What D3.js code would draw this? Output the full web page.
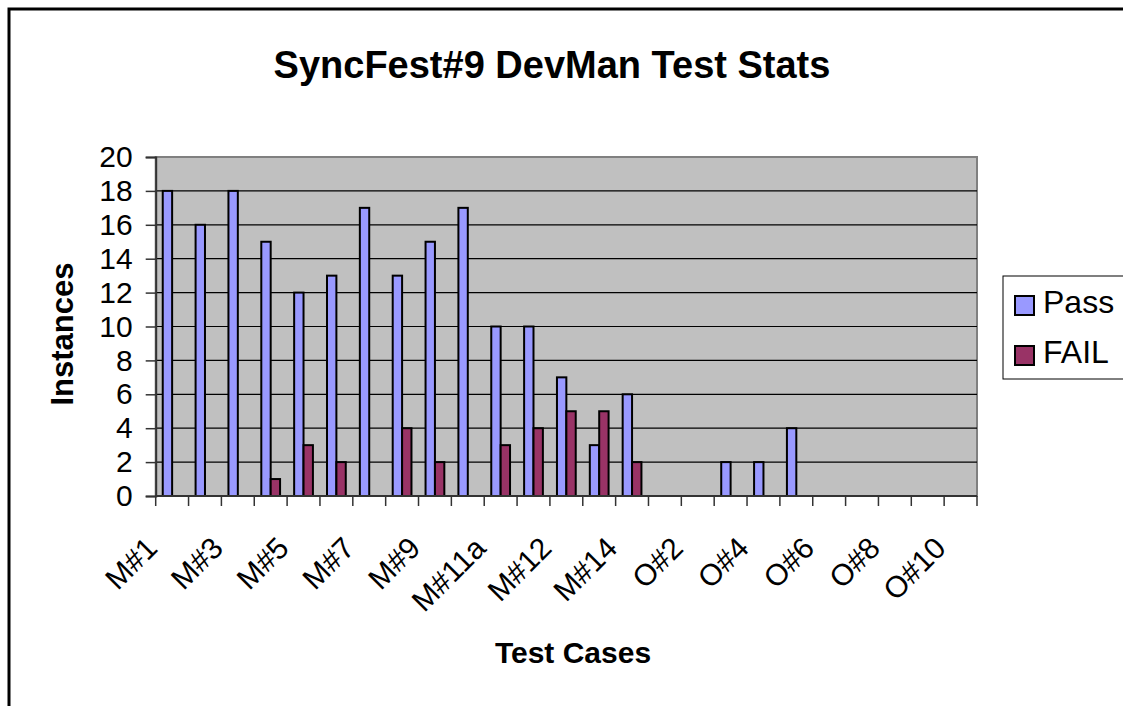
<!DOCTYPE html>
<html>
<head>
<meta charset="utf-8">
<script src="https://cdn.jsdelivr.net/npm/d3@7"></script>
<style>
  body { margin: 0; background: #fff; }
  svg { display: block; font-family: "Liberation Sans", Arial, sans-serif; }
</style>
</head>
<body>
<script>
// data
var categories = ["M#1","M#2","M#3","M#4","M#5","M#6","M#7","M#8","M#9","M#10",
    "M#11a","M#11b","M#12","M#13","M#14",
    "O#1","O#2","O#3","O#4","O#5","O#6","O#7","O#8","O#9","O#10"];
var passValues = [18,16,18,15,12,13,17,13,15,17,10,10,7,3,6,0,0,2,2,4,0,0,0,0,0];
var failValues = [0,0,0,1,3,2,0,4,2,0,3,4,5,5,2,0,0,0,0,0,0,0,0,0,0];
var seriesNames = ["Pass", "FAIL"];
var seriesColors = ["#9999ff", "#993366"];
var yTicks = [0,2,4,6,8,10,12,14,16,18,20];

var w = 1123, h = 706;
var plot = {left: 155.7, right: 977, top: 157, bottom: 496};

var svg = d3.select("body")
    .append("svg")
    .attr("width", w)
    .attr("height", h);

// chart border (runs off the picture at right and bottom)
svg.append("rect")
    .attr("x", 9).attr("y", 9)
    .attr("width", 1130).attr("height", 720)
    .attr("fill", "white")
    .attr("stroke", "black")
    .attr("stroke-width", 3);

var rows = categories.map(function(c, i) {
    return {cat: c, values: [passValues[i], failValues[i]]};
});

var xScale = d3.scaleBand()
    .domain(categories)
    .range([plot.left, plot.right])
    .paddingInner(1.5 / 3.5)
    .paddingOuter(0.75 / 3.5);

var xSeries = d3.scaleBand()
    .domain(seriesNames)
    .range([0, xScale.bandwidth()]);

var yScale = d3.scaleLinear()
    .domain([0, 20])
    .range([plot.bottom, plot.top]);

// plot area
svg.append("rect")
    .attr("x", plot.left).attr("y", plot.top)
    .attr("width", plot.right - plot.left)
    .attr("height", plot.bottom - plot.top)
    .attr("fill", "#c0c0c0")
    .attr("stroke", "#808080")
    .attr("stroke-width", 2);

// gridlines
svg.selectAll(".grid")
    .data(yTicks.filter(function(d) { return d > 0 && d < 20; }))
    .enter()
    .append("line")
    .attr("x1", plot.left).attr("x2", plot.right)
    .attr("y1", function(d) { return yScale(d); })
    .attr("y2", function(d) { return yScale(d); })
    .attr("stroke", "black")
    .attr("stroke-width", 1.2);

// bars
var groups = svg.selectAll(".cat")
    .data(rows)
    .enter()
    .append("g")
    .attr("transform", function(d) { return "translate(" + xScale(d.cat) + ",0)"; });

groups.selectAll("rect")
    .data(function(d) {
        return d.values.map(function(v, k) { return {series: seriesNames[k], value: v, k: k}; })
            .filter(function(e) { return e.value > 0; });
    })
    .enter()
    .append("rect")
    .attr("x", function(d) { return xSeries(d.series); })
    .attr("y", function(d) { return yScale(d.value); })
    .attr("width", xSeries.bandwidth())
    .attr("height", function(d) { return yScale(0) - yScale(d.value); })
    .attr("fill", function(d) { return seriesColors[d.k]; })
    .attr("stroke", "black")
    .attr("stroke-width", 2);

// y axis
var yAxis = svg.append("g")
    .attr("transform", "translate(" + plot.left + ",0)")
    .call(d3.axisLeft(yScale).tickValues(yTicks).tickSize(10).tickPadding(13));
yAxis.select(".domain").attr("stroke", "#333").attr("stroke-width", 2);
yAxis.selectAll(".tick line").attr("stroke", "#333").attr("stroke-width", 1.5);
yAxis.selectAll("text")
    .attr("font-size", 30)
    .attr("fill", "black")
    .attr("dy", "0.32em");

// x axis line + tick marks at category boundaries
svg.append("line")
    .attr("x1", plot.left).attr("x2", plot.right)
    .attr("y1", plot.bottom).attr("y2", plot.bottom)
    .attr("stroke", "#333").attr("stroke-width", 2);

svg.selectAll(".xtick")
    .data(d3.range(categories.length + 1))
    .enter()
    .append("line")
    .attr("x1", function(i) { return plot.left + i * xScale.step(); })
    .attr("x2", function(i) { return plot.left + i * xScale.step(); })
    .attr("y1", plot.bottom).attr("y2", plot.bottom + 10)
    .attr("stroke", "#333").attr("stroke-width", 1.5);

// x labels, every other one, rotated
svg.selectAll(".xlab")
    .data(categories.filter(function(c, i) { return i % 2 === 0; }))
    .enter()
    .append("text")
    .attr("transform", function(d) {
        var cx = xScale(d) + xScale.bandwidth() / 2;
        return "translate(" + (cx - 13) + ",550) rotate(-45)";
    })
    .attr("text-anchor", "end")
    .attr("font-size", 30)
    .text(function(d) { return d; });

// titles
svg.append("text")
    .attr("x", 552).attr("y", 78)
    .attr("text-anchor", "middle")
    .attr("font-size", 38)
    .attr("font-weight", "bold")
    .text("SyncFest#9 DevMan Test Stats");

svg.append("text")
    .attr("transform", "translate(73,334) rotate(-90)")
    .attr("text-anchor", "middle")
    .attr("font-size", 31)
    .attr("font-weight", "bold")
    .text("Instances");

svg.append("text")
    .attr("x", 573).attr("y", 663)
    .attr("text-anchor", "middle")
    .attr("font-size", 30)
    .attr("font-weight", "bold")
    .text("Test Cases");

// legend
var legend = svg.append("g");
legend.append("rect")
    .attr("x", 1003).attr("y", 276)
    .attr("width", 140).attr("height", 103)
    .attr("fill", "white")
    .attr("stroke", "black")
    .attr("stroke-width", 1);

var items = legend.selectAll(".item")
    .data(seriesNames)
    .enter()
    .append("g")
    .attr("transform", function(d, i) { return "translate(1015," + (296 + i * 50) + ")"; });

items.append("rect")
    .attr("width", 19).attr("height", 19)
    .attr("fill", function(d, i) { return seriesColors[i]; })
    .attr("stroke", "black")
    .attr("stroke-width", 2);

items.append("text")
    .attr("x", 28).attr("y", 17)
    .attr("font-size", 32)
    .text(function(d) { return d; });
</script>
</body>
</html>
